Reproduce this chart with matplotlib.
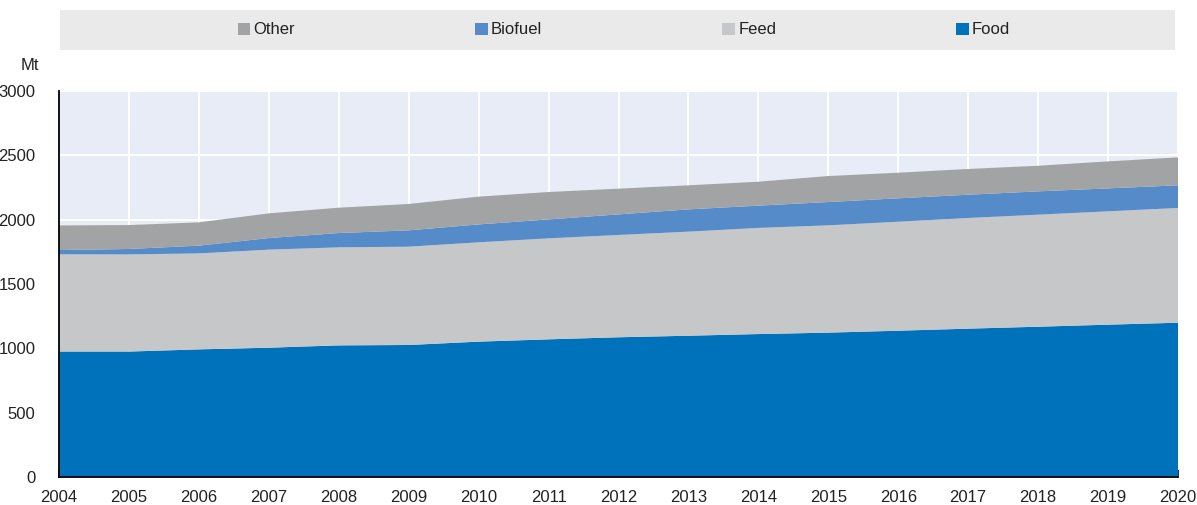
import matplotlib.pyplot as plt
from matplotlib.patches import Rectangle

plt.rcParams['font.family'] = ['Liberation Sans Narrow', 'Liberation Sans', 'DejaVu Sans']

years = list(range(2004, 2021))
food = [975, 975, 992, 1005, 1023, 1026, 1052, 1070, 1086, 1098, 1111, 1122, 1137, 1153, 1168, 1184, 1199]
feed = [756, 755, 746, 762, 762, 764, 772, 785, 795, 809, 825, 834, 847, 860, 871, 881, 892]
biofuel = [33, 42, 60, 90, 111, 127, 139, 147, 160, 173, 173, 181, 182, 181, 181, 178, 176]
other = [191, 186, 181, 192, 197, 205, 216, 213, 200, 187, 186, 202, 199, 200, 199, 210, 217]

labels = ["Food", "Feed", "Biofuel", "Other"]
colors = ["#0072BB", "#C6C7C9", "#548BC8", "#A2A3A5"]

fig = plt.figure(figsize=(11.97, 5.05), dpi=100)
ax = fig.add_axes([59 / 1197, 28 / 505, 1119 / 1197, 386 / 505])
ax.set_facecolor("#E8ECF7")

polys = ax.stackplot(years, food, feed, biofuel, other, colors=colors, labels=labels, linewidth=0)

ax.set_xlim(2004, 2020)
ax.set_ylim(0, 3000)
ax.set_xticks(years)
ax.set_yticks(range(0, 3001, 500))
ax.grid(True, color="white", linewidth=1.5)
ax.set_axisbelow(True)

for s in ["top", "right"]:
    ax.spines[s].set_visible(False)
ax.spines["left"].set_linewidth(1.3)
ax.spines["bottom"].set_linewidth(1.3)
ax.tick_params(axis="x", direction="in", length=5, width=1.3, pad=9, labelsize=12, colors="#222222")
ax.tick_params(axis="y", length=0, pad=17, labelsize=12, colors="#222222")

fig.text(30 / 1197, 1 - 65 / 505, "Mt", ha="center", va="center", fontsize=12, color="#222222")

# legend band on top
fig.patches.append(Rectangle((60 / 1197, 1 - 50 / 505), 1115 / 1197, 40 / 505,
                             transform=fig.transFigure, facecolor="#EAEAEA", edgecolor="none", zorder=0))
handles = polys[::-1]
leg = fig.legend(handles, labels[::-1], loc="center", bbox_to_anchor=(624 / 1197, 1 - 30 / 505),
                 ncol=4, frameon=False, fontsize=12, handlelength=0.75, handleheight=0.75,
                 handletextpad=0.2, columnspacing=10.8)
for t in leg.get_texts():
    t.set_color("#222222")

fig.savefig("out.png", dpi=100)
